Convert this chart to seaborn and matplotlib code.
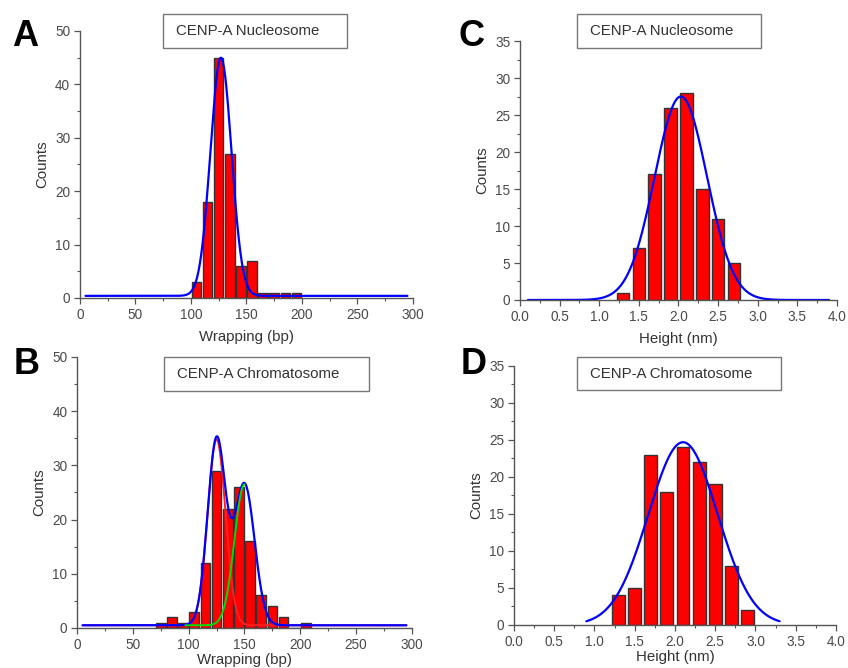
import numpy as np
import pandas as pd
import matplotlib
matplotlib.use("Agg")
import matplotlib.pyplot as plt
from matplotlib.patches import Rectangle
from matplotlib.ticker import MultipleLocator
import seaborn as sns

# ── Data ──────────────────────────────────────────────────────────────────────
# Panel A: CENP-A nucleosome, wrapping (bp), 10 bp bins
wrap_edges_a  = [100, 110, 120, 130, 140, 150, 160, 170, 180, 190, 200]
wrap_counts_a = [3, 18, 45, 27, 6, 7, 1, 1, 1, 1]
fit_a = dict(center=127, amp=44.6, sigma=9.5, base=0.4)

# Panel B: CENP-A chromatosome, wrapping (bp)
wrap_edges_b  = [70, 80, 90, 100, 110, 120, 130, 140, 150, 160, 170, 180, 190, 200, 210]
wrap_counts_b = [1, 2, 1, 3, 12, 29, 22, 26, 16, 6, 4, 2, 0, 1]
fit_b1 = dict(center=125, amp=34.3, sigma=8.0)
fit_b2 = dict(center=150, amp=26.0, sigma=9.0)
base_b = 0.5

# Panel C: CENP-A nucleosome, height (nm), 0.2 nm bins
height_edges_c  = [1.2, 1.4, 1.6, 1.8, 2.0, 2.2, 2.4, 2.6, 2.8]
height_counts_c = [1, 7, 17, 26, 28, 15, 11, 5]
fit_c = dict(center=2.03, amp=27.5, sigma=0.33, base=0.0)

# Panel D: CENP-A chromatosome, height (nm)
height_edges_d  = [1.2, 1.4, 1.6, 1.8, 2.0, 2.2, 2.4, 2.6, 2.8, 3.0]
height_counts_d = [4, 5, 23, 18, 24, 22, 19, 8, 2]
fit_d = dict(center=2.1, amp=24.7, sigma=0.43, base=0.0)

TEXT_GRAY = "#4a4a4a"


def gauss(x, center, amp, sigma, base=0.0):
    return base + amp * np.exp(-(x - center) ** 2 / (2 * sigma ** 2))


def hist(ax, edges, counts, shrink):
    e = np.asarray(edges, dtype=float)
    centers = (e[:-1] + e[1:]) / 2
    df = pd.DataFrame({"x": centers, "w": counts})
    sns.histplot(data=df, x="x", weights="w", bins=list(edges), shrink=shrink,
                 color="#ff0000", edgecolor="#333333", linewidth=1.0,
                 alpha=1.0, ax=ax)


def style(ax, xlim, ylim, xmaj, ymaj, xlabel, xpad=6):
    ax.set_xlim(*xlim)
    ax.set_ylim(*ylim)
    ax.xaxis.set_major_locator(MultipleLocator(xmaj))
    ax.xaxis.set_minor_locator(MultipleLocator(xmaj / 2))
    ax.yaxis.set_major_locator(MultipleLocator(ymaj))
    ax.yaxis.set_minor_locator(MultipleLocator(ymaj / 2))
    for side in ("top", "right"):
        ax.spines[side].set_visible(False)
    for side in ("left", "bottom"):
        ax.spines[side].set_color("#555555")
        ax.spines[side].set_linewidth(1.0)
    ax.tick_params(which="major", direction="out", length=4, width=0.9,
                   colors="#555555", labelcolor=TEXT_GRAY, labelsize=9.8, pad=3,
                   bottom=True, left=True)
    ax.tick_params(which="minor", direction="out", length=2.5, width=0.8,
                   colors="#555555", bottom=True, left=True)
    ax.set_xlabel(xlabel, color="#333333", fontsize=10.8, labelpad=xpad)
    ax.set_ylabel("Counts", color="#333333", fontsize=10.8, labelpad=4)
    ax.grid(False)


def title_box(fig, x0, y0, x1, y1, text):
    # pixel coords (top-left origin) -> figure fraction
    W, H = 848, 668
    fig.patches.append(Rectangle((x0 / W, 1 - y1 / H), (x1 - x0) / W, (y1 - y0) / H,
                                 transform=fig.transFigure, facecolor="white",
                                 edgecolor="#777777", linewidth=1.0, zorder=5))
    fig.text((x0 + 13) / W, 1 - (y0 + y1) / 2 / H, text, ha="left", va="center",
             fontsize=10.8, color="#333333", zorder=6)


sns.set_theme(style="white")
plt.rcParams["font.family"] = ["Liberation Sans", "DejaVu Sans"]

fig = plt.figure(figsize=(8.48, 6.68), dpi=100)
fig.patch.set_facecolor("white")

ax_a = fig.add_axes([0.0943, 0.5539, 0.3927, 0.3997])
ax_c = fig.add_axes([0.6132, 0.5509, 0.3738, 0.3877])
ax_b = fig.add_axes([0.0908, 0.0599, 0.3950, 0.4057])
ax_d = fig.add_axes([0.6061, 0.0644, 0.3797, 0.3877])

# ── A ──────────────────────────────────────────────────────────────────────────
hist(ax_a, wrap_edges_a, wrap_counts_a, shrink=0.86)
xa = np.linspace(5, 295, 600)
sns.lineplot(x=xa, y=gauss(xa, **fit_a), color="#0000ff", lw=1.6, ax=ax_a)
style(ax_a, (0, 300), (0, 50), 50, 10, "Wrapping (bp)")

# ── B ──────────────────────────────────────────────────────────────────────────
hist(ax_b, wrap_edges_b, wrap_counts_b, shrink=0.86)
xb = np.linspace(5, 295, 600)
sns.lineplot(x=xb, y=base_b + gauss(xb, **fit_b1), color="#ff2020", lw=1.4, ax=ax_b)
sns.lineplot(x=xb, y=base_b + gauss(xb, **fit_b1) + gauss(xb, **fit_b2),
             color="#0000ff", lw=1.6, ax=ax_b)
xg = np.linspace(97, 150, 200)
sns.lineplot(x=xg, y=base_b + gauss(xg, **fit_b2), color="#00dd00", lw=1.4, ax=ax_b)
style(ax_b, (0, 300), (0, 50), 50, 10, "Wrapping (bp)", xpad=1)

# ── C ──────────────────────────────────────────────────────────────────────────
hist(ax_c, height_edges_c, height_counts_c, shrink=0.8)
xc = np.linspace(0.1, 3.9, 600)
sns.lineplot(x=xc, y=gauss(xc, **fit_c), color="#0000ff", lw=1.6, ax=ax_c)
style(ax_c, (0, 4.0), (0, 35), 0.5, 5, "Height (nm)")

# ── D ──────────────────────────────────────────────────────────────────────────
hist(ax_d, height_edges_d, height_counts_d, shrink=0.8)
xd = np.linspace(0.9, 3.3, 600)
sns.lineplot(x=xd, y=gauss(xd, **fit_d), color="#0000ff", lw=1.6, ax=ax_d)
style(ax_d, (0, 4.0), (0, 35), 0.5, 5, "Height (nm)", xpad=1)

# ── Title boxes and panel letters ─────────────────────────────────────────────
title_box(fig, 163, 14, 347, 48, "CENP-A Nucleosome")
title_box(fig, 577, 14, 761, 48, "CENP-A Nucleosome")
title_box(fig, 164, 357, 369, 391, "CENP-A Chromatosome")
title_box(fig, 577, 357, 781, 390, "CENP-A Chromatosome")

for letter, (px, py) in {"A": (25, 36), "B": (27, 365),
                         "C": (472, 37), "D": (474, 365)}.items():
    fig.text(px / 848, 1 - py / 668, letter, ha="center", va="center",
             fontsize=26, fontweight="bold", color="black")

fig.savefig("out.png", dpi=100, facecolor="white")
plt.close(fig)
